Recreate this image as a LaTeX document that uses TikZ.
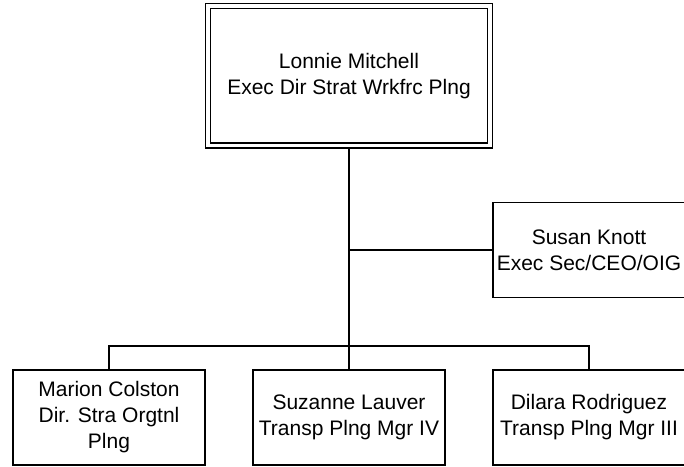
\documentclass[tikz,border=0pt]{standalone}
\usepackage{fontspec}
\setmainfont{Liberation Sans}

\begin{document}
\begin{tikzpicture}[
  x=1pt, y=-1pt,
  every node/.style={align=center, inner sep=0pt, font=\fontsize{21}{26}\selectfont},
  box/.style={draw, line width=1.5pt, minimum width=192pt, minimum height=95pt},
  topbox/.style={draw, double, line width=1.4pt, double distance=3.6pt, outer sep=3.2pt,
    minimum width=282.5pt, minimum height=139.5pt},
  link/.style={draw, line width=1.5pt}
]
\useasboundingbox (0,0) rectangle (684,466);
\clip (0,0) rectangle (684,466);

\node[topbox] (lonnie) at (349,75.75) {Lonnie Mitchell\\Exec Dir Strat Wrkfrc Plng};
\node[box] (susan) at (589,250) {Susan Knott\\Exec Sec/CEO/OIG};

% bottom row
\node[box] (marion) at (109,417.5) {Marion Colston\\Dir. Stra Orgtnl\\Plng};
\node[box] (suzanne) at (349,417.5) {Suzanne Lauver\\Transp Plng Mgr IV};
\node[box] (dilara) at (589,417.5) {Dilara Rodriguez\\Transp Plng Mgr III};

\coordinate (bus) at (349,346);
\draw[link] (lonnie.south) -- (bus);
\draw[link] (lonnie.south |- susan.west) -- (susan.west);
\draw[link] (marion.north) |- (bus) -| (dilara.north);
\draw[link] (bus) -- (suzanne.north);
\end{tikzpicture}
\end{document}
